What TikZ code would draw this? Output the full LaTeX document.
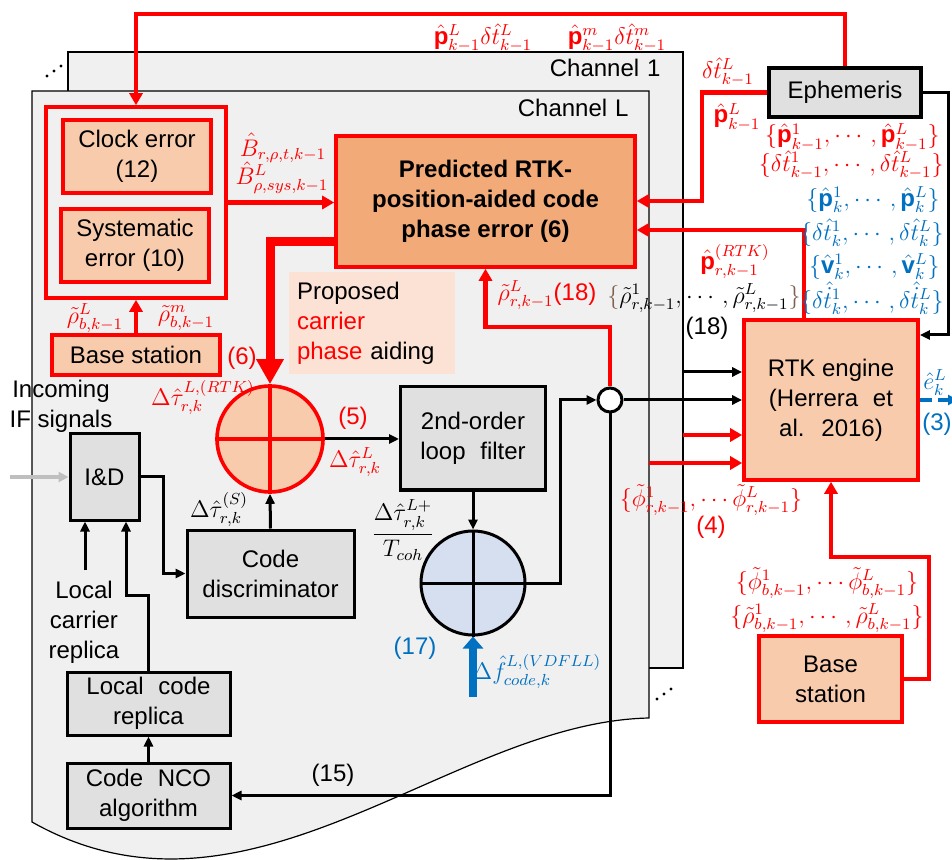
\documentclass[tikz,border=0pt]{standalone}
\usepackage{amsmath,amssymb}
\usepackage{fontspec}
\setmainfont{Liberation Sans}
\usetikzlibrary{arrows.meta}
\definecolor{rd}{HTML}{FF0000}
\definecolor{bl}{HTML}{0070C0}
\definecolor{peach}{HTML}{F8CBAD}
\definecolor{orng}{HTML}{F2AA78}
\definecolor{lpeach}{HTML}{FBE2D5}
\definecolor{gbox}{HTML}{E0E0E0}
\definecolor{pagec}{HTML}{F0F0F0}
\definecolor{lblue}{HTML}{D6DFF0}
\definecolor{brc}{HTML}{806050}
\begin{document}
\begin{tikzpicture}[x=0.5pt,y=-0.5pt,
  every node/.style={font=\fontsize{12}{15}\selectfont, inner sep=0pt},
  pagestyle/.style={draw=black, line width=0.6pt, fill=pagec},
  graybox/.style={draw=black, line width=1.5pt, fill=gbox, align=center},
  pbox/.style={draw=rd, line width=1.8pt, fill=peach, align=center},
  rl/.style={draw=rd, line width=2.2pt},
  rarr/.style={rl, -{Triangle[length=6pt,width=6.5pt]}},
  thickred/.style={draw=rd, line width=4.5pt, -{Triangle[length=12.5pt,width=13pt]}},
  barr/.style={draw=black, line width=1.5pt, -{Triangle[length=5pt,width=4.5pt]}},
  garr/.style={draw=black!25, line width=1.8pt, -{Triangle[length=5pt,width=5pt]}},
  bluearr/.style={draw=bl, line width=4pt, -{Triangle[length=6pt,width=10pt]}},
  bdash/.style={draw=bl, line width=1.8pt, dash pattern=on 6pt off 3pt, -{Triangle[length=5pt,width=5pt]}},
  rlab/.style={text=rd},
  blab/.style={text=bl},
]
\useasboundingbox (0,0) rectangle (952,860);

% pages
\path[pagestyle] (68,52) rectangle (683,668);
\path[pagestyle] (32,91) -- (649,91) -- (649,718) .. controls (450,722) and (250,945) .. (32,822) -- cycle;
\node[anchor=east] (ch1) at (661,68) {Channel\,\,1};
\node[anchor=east] (chL) at (629,108) {Channel\,\,L};
\fill (47,76) circle (1.7); \fill (54,71) circle (1.7); \fill (61,66) circle (1.7);
\fill (657,699) circle (1.7); \fill (664,694) circle (1.7); \fill (671,689) circle (1.7);

% boxes
\node[draw=rd, line width=1.8pt, minimum width=90pt, minimum height=95.5pt] (outer) at (136,202.5) {};
\node[pbox, minimum width=74pt, minimum height=36.5pt] (clock) at (137,156.5) {Clock error\\(12)};
\node[pbox, minimum width=74pt, minimum height=36.5pt] (syserr) at (135,245.5) {Systematic\\error (10)};
\node[pbox, minimum width=84pt, minimum height=20pt] (basel) at (136,355) {Base station};
\node[draw=rd, line width=1.8pt, fill=orng, minimum width=149.5pt, minimum height=65.5pt, align=center, font=\bfseries\fontsize{12}{15}\selectfont] (pred) at (485.5,201.5) {Predicted RTK-\\position-aided code\\phase error (6)};
\node[fill=lpeach, text width=75pt, inner xsep=4pt, minimum height=51pt, align=left] (prop) at (372,323) {Proposed\\\textcolor{rd}{carrier}\\\textcolor{rd}{phase} aiding};
\node[draw=black, line width=2.2pt, fill=gbox, minimum width=76pt, minimum height=24.5pt] (eph) at (845,92.5) {Ephemeris};
\node[pbox, minimum width=87pt, minimum height=80pt] (rtk) at (831,400) {RTK engine\\(Herrera\,\, et\\al.\,\, 2016)};
\node[pbox, minimum width=71.5pt, minimum height=43pt] (baser) at (830.5,679) {Base\\station};
\node[graybox, minimum width=34.5pt, minimum height=43pt] (iad) at (104.5,477) {I\&D};
\node[graybox, minimum width=83.5pt, minimum height=43.5pt] (disc) at (270.5,573.5) {Code\\discriminator};
\node[graybox, minimum width=72.5pt, minimum height=51.5pt] (loop) at (473,438.5) {2nd-order\\loop\,\, filter};
\node[graybox, minimum width=81.5pt, minimum height=31.5pt] (replica) at (148.5,703.5) {Local\,\, code\\replica};
\node[graybox, minimum width=81.5pt, minimum height=32.5pt] (nco) at (148.5,795.5) {Code\,\, NCO\\algorithm};
\node[circle, draw=rd, line width=1.8pt, fill=peach, minimum size=53pt] (sum1) at (270,439) {};
\draw[rd, line width=1.8pt] (sum1.north) -- (sum1.south) (sum1.west) -- (sum1.east);
\node[circle, draw=black, line width=1.5pt, fill=lblue, minimum size=52pt] (sum2) at (473,583) {};
\draw[line width=1.5pt] (sum2.north) -- (sum2.south) (sum2.west) -- (sum2.east);
\node[circle, draw=black, line width=1.5pt, fill=white, minimum size=12pt] (junc) at (610,400) {};

% free-end coordinates
\coordinate (ifin) at (10,477);
\coordinate (vdfll) at (473,697);
\coordinate (ch1out) at (683,372);
\coordinate (ch1phi) at (683,435);
\coordinate (chLphi) at (649,463);
\coordinate (ekout) at (958,400);
\coordinate (carrep) at (85,570);

% connectors
\draw[rarr] (eph.north) -- (eph.north |- 0,14) -- (outer.north |- 0,14) -- (outer.north);
\draw[rarr] (eph.west) -- (702,92.5) -- (702,201) -- (pred.east |- 0,201);
\draw[rarr] (rtk.north -| 804,0) -- (804,230) -- (pred.east |- 0,230);
\draw[rarr] (outer.east) -- (pred.west |- outer.east);
\draw[thickred] (pred.west |- 0,242) -| (sum1.north);
\draw[rarr] (basel.north) -- (outer.south);
\draw[garr] (ifin) -- (iad.west);
\draw[barr] (iad.east) -- (163,477) |- (disc.west);
\draw[barr] (disc.north) -- (sum1.south);
\draw[barr] (sum1.east) -- (loop.west |- sum1.east);
\draw[barr] (loop.south) -- (sum2.north);
\draw[bluearr] (vdfll) -- (sum2.south);
\draw[barr] (sum2.east) -- (560,583) |- (junc.west);
\draw[barr] (junc.south) |- (nco.east);
\draw[rarr] (junc.north) -- (610,327) -| (pred.south);
\draw[barr] (junc.east) -- (rtk.west |- junc.east);
\draw[barr] (ch1out) -- (rtk.west |- ch1out);
\draw[rarr] (ch1phi) -- (rtk.west |- ch1phi);
\draw[rarr] (chLphi) -- (rtk.west |- chLphi);
\draw[barr] (eph.east) -- (948,92.5) |- (rtk.east |- 0,335);
\draw[bdash] (rtk.east) -- (ekout);
\draw[rarr] (baser.east) -- (929,679) |- (831,557) -- (rtk.south);
\draw[barr] (carrep) -- (iad.south -| carrep);
\draw[barr] (replica.north) -- (148.5,595) -| (iad.south -| 126,0);
\draw[barr] (nco.north) -- (replica.south);

% labels
\node[rlab] (l1) at (483,38) {$\hat{\mathbf{p}}^{L}_{k-1}\delta\hat{t}^{L}_{k-1}$};
\node[rlab] (l2) at (617,38) {$\hat{\mathbf{p}}^{m}_{k-1}\delta\hat{t}^{m}_{k-1}$};
\node[rlab] (l3) at (728,72) {$\delta\hat{t}^{L}_{k-1}$};
\node[rlab] (l4) at (737,117) {$\hat{\mathbf{p}}^{L}_{k-1}$};
\node[rlab, anchor=east] (s1) at (940,137) {$\{\hat{\mathbf{p}}^{1}_{k-1},\cdots,\hat{\mathbf{p}}^{L}_{k-1}\}$};
\node[rlab, anchor=east] (s2) at (944,165) {$\{\delta\hat{t}^{1}_{k-1},\cdots,\delta\hat{t}^{L}_{k-1}\}$};
\node[blab, anchor=east] (s3) at (940,200) {$\{\hat{\mathbf{p}}^{1}_{k},\cdots,\hat{\mathbf{p}}^{L}_{k}\}$};
\node[blab, anchor=east] (s4) at (944,233) {$\{\delta\hat{t}^{1}_{k},\cdots,\delta\hat{t}^{L}_{k}\}$};
\node[blab, anchor=east] (s5) at (940,267) {$\{\hat{\mathbf{v}}^{1}_{k},\cdots,\hat{\mathbf{v}}^{L}_{k}\}$};
\node[blab, anchor=east] (s6) at (944,298) {$\{\delta\hat{\dot{t}}^{1}_{k},\cdots,\delta\hat{\dot{t}}^{L}_{k}\}$};
\node[rlab] (l5) at (735,262) {$\hat{\mathbf{p}}^{(RTK)}_{r,k-1}$};
\node[rlab] (l6) at (283,148) {$\hat{B}_{r,\rho,t,k-1}$};
\node[rlab] (l7) at (282,178) {$\hat{B}^{L}_{\rho,sys,k-1}$};
\node[rlab] (l8) at (95,318) {$\tilde{\rho}^{L}_{b,k-1}$};
\node[rlab] (l9) at (186,318) {$\tilde{\rho}^{m}_{b,k-1}$};
\node[rlab] (l10) at (242,358) {(6)};
\node[rlab] (l11) at (203,398) {$\Delta\hat{\tau}^{L,(RTK)}_{r,k}$};
\node[rlab] (l12) at (547,295) {$\tilde{\rho}^{L}_{r,k-1}$(18)};
\node (l13) at (704,298) {$\textcolor{brc}{\{}\tilde{\rho}^{1}_{r,k-1},\cdots,\tilde{\rho}^{L}_{r,k-1}\textcolor{brc}{\}}$};
\node (l14) at (707,328) {(18)};
\node[rlab] (l15) at (353,418) {(5)};
\node[rlab] (l16) at (355,462) {$\Delta\hat{\tau}^{L}_{r,k}$};
\node (l17) at (219,510) {$\Delta\hat{\tau}^{(S)}_{r,k}$};
\node (l18) at (403,530) {$\dfrac{\Delta\hat{\tau}^{L+}_{r,k}}{T_{coh}}$};
\node[blab] (l19) at (415,648) {(17)};
\node[blab] (l20) at (537,672) {$\Delta\hat{f}^{L,(VDFLL)}_{code,k}$};
\node (l21) at (333,775) {(15)};
\node[rlab] (l22) at (711,500) {$\{\tilde{\phi}^{1}_{r,k-1},\cdots\tilde{\phi}^{L}_{r,k-1}\}$};
\node[rlab] (l23) at (711,527) {(4)};
\node[blab] (l24) at (935,383) {$\hat{e}^{L}_{k}$};
\node[blab] (l25) at (937,424) {(3)};
\node[rlab] (l26) at (827,583) {$\{\tilde{\phi}^{1}_{b,k-1},\cdots\tilde{\phi}^{L}_{b,k-1}\}$};
\node[rlab] (l27) at (827,618) {$\{\tilde{\rho}^{1}_{b,k-1},\cdots,\tilde{\rho}^{L}_{b,k-1}\}$};
\node[align=center] (l28) at (61,406) {Incoming\\IF signals};
\node[align=center] (l29) at (84,622) {Local\\carrier\\replica};
\end{tikzpicture}
\end{document}
